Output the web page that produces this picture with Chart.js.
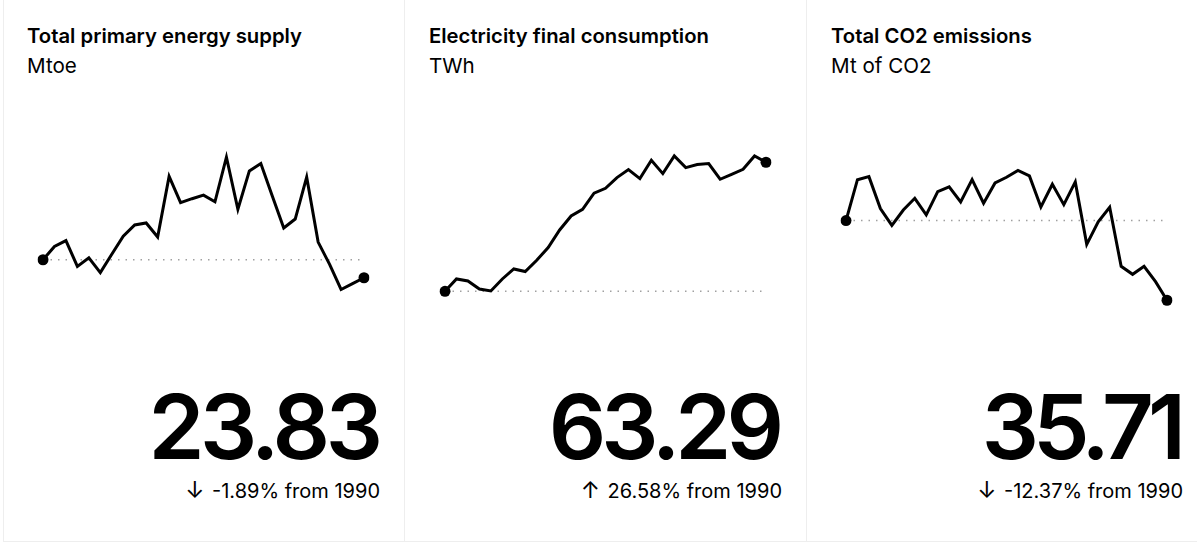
<!DOCTYPE html>
<html>
<head>
<meta charset="utf-8">
<script src="https://cdn.jsdelivr.net/npm/chart.js@4"></script>
<style>
    html, body { margin: 0; padding: 0; background: #fff; }
    body { width: 1197px; height: 544px; overflow: hidden; position: relative; font-family: 'Inter', sans-serif; color: #000; }
    .card { position: absolute; top: 0; height: 541px; border-left: 1px solid #eeeeee; border-bottom: 1px solid #eeeeee; }
    .title { position: absolute; left: 23px; top: 24px; font-size: 20.3px; font-weight: 600; line-height: 24px; white-space: nowrap; }
    .unit { position: absolute; left: 23px; top: 54px; font-size: 20.6px; font-weight: 400; line-height: 24px; white-space: nowrap; }
    .big { position: absolute; top: 372px; font-size: 90px; font-weight: 600; line-height: 110px; text-align: right; white-space: nowrap; }
    .change { position: absolute; top: 479px; font-size: 20px; line-height: 24px; text-align: right; white-space: nowrap; }
    .change span { font-size: 23px; line-height: 0; margin-right: 2px; }
    canvas { position: absolute; top: 130.7px; }
</style>
</head>
<body>
<div class="card" style="left:3px;width:400px">
    <div class="title">Total primary energy supply</div>
    <div class="unit">Mtoe</div>
    <canvas id="supplyChart" width="361" height="180" style="left:19px"></canvas>
    <div class="big" style="right:25.5px;letter-spacing:-4.5px">23.83</div>
    <div class="change" style="right:24px"><span>↓</span> -1.89% from 1990</div>
</div>
<div class="card" style="left:404px;width:401px">
    <div class="title" style="left:24px">Electricity final consumption</div>
    <div class="unit" style="left:24px">TWh</div>
    <canvas id="electricityChart" width="361" height="180" style="left:20px"></canvas>
    <div class="big" style="right:27px;letter-spacing:-5px">63.29</div>
    <div class="change" style="right:24px"><span>↑</span> 26.58% from 1990</div>
</div>
<div class="card" style="left:806px;width:390px">
    <div class="title" style="left:24px">Total CO2 emissions</div>
    <div class="unit" style="left:24px">Mt of CO2</div>
    <canvas id="co2Chart" width="361" height="180" style="left:19px"></canvas>
    <div class="big" style="right:17px;letter-spacing:-6px">35.71</div>
    <div class="change" style="right:14px"><span>↓</span> -12.37% from 1990</div>
</div>
<script>
const years = [1990, 1991, 1992, 1993, 1994, 1995, 1996, 1997, 1998, 1999, 2000, 2001, 2002, 2003, 2004, 2005, 2006, 2007, 2008, 2009, 2010, 2011, 2012, 2013, 2014, 2015, 2016, 2017, 2018];

const supplyValues = [24.29, 24.63, 24.78, 24.12, 24.34, 23.96, 24.43, 24.89, 25.18, 25.23, 24.87, 26.42, 25.75, 25.85, 25.94, 25.77, 26.91, 25.58, 26.56, 26.75, 25.92, 25.10, 25.33, 26.40, 24.74, 24.17, 23.53, 23.68, 23.83];
const electricityValues = [50.00, 51.27, 51.06, 50.24, 50.03, 51.27, 52.30, 52.03, 53.19, 54.50, 56.32, 57.76, 58.45, 60.10, 60.61, 61.71, 62.53, 61.61, 63.50, 62.12, 63.94, 62.74, 63.05, 63.15, 61.54, 62.05, 62.57, 63.94, 63.29];
const co2Values = [40.75, 43.34, 43.53, 41.51, 40.45, 41.42, 42.16, 41.11, 42.58, 42.88, 41.93, 43.34, 41.85, 43.13, 43.49, 43.93, 43.58, 41.61, 43.05, 41.76, 43.20, 39.25, 40.67, 41.59, 37.86, 37.35, 37.86, 36.89, 35.71];

function drawSparkline(canvasId, values, yMin, yMax) {
    const lastIndex = values.length - 1;
    const ctx = document.getElementById(canvasId).getContext('2d');
    new Chart(ctx, {
        type: 'line',
        data: {
            labels: years,
            datasets: [
                {
                    data: values,
                    borderColor: '#000',
                    backgroundColor: '#000',
                    borderWidth: 3,
                    borderJoinStyle: 'miter',
                    tension: 0,
                    pointRadius: c => (c.dataIndex === 0 || c.dataIndex === lastIndex) ? 5.5 : 0,
                    pointBorderWidth: 0
                },
                {
                    // dotted reference line at the 1990 level
                    data: values.map(() => values[0]),
                    borderColor: '#a0a0a0',
                    borderWidth: 1.5,
                    borderDash: [1.5, 6],
                    pointRadius: 0,
                    tension: 0
                }
            ]
        },
        options: {
            responsive: false,
            animation: false,
            layout: { autoPadding: false, padding: { left: 20, right: 20, top: 0, bottom: 0 } },
            plugins: { legend: { display: false }, tooltip: { enabled: false } },
            scales: {
                x: { display: false, offset: false },
                y: { display: false, min: yMin, max: yMax }
            }
        }
    });
}

drawSparkline('supplyChart', supplyValues, 22.98, 27.58);
drawSparkline('electricityChart', electricityValues, 47.97, 66.51);
drawSparkline('co2Chart', co2Values, 35.03, 46.42);
</script>
</body>
</html>
